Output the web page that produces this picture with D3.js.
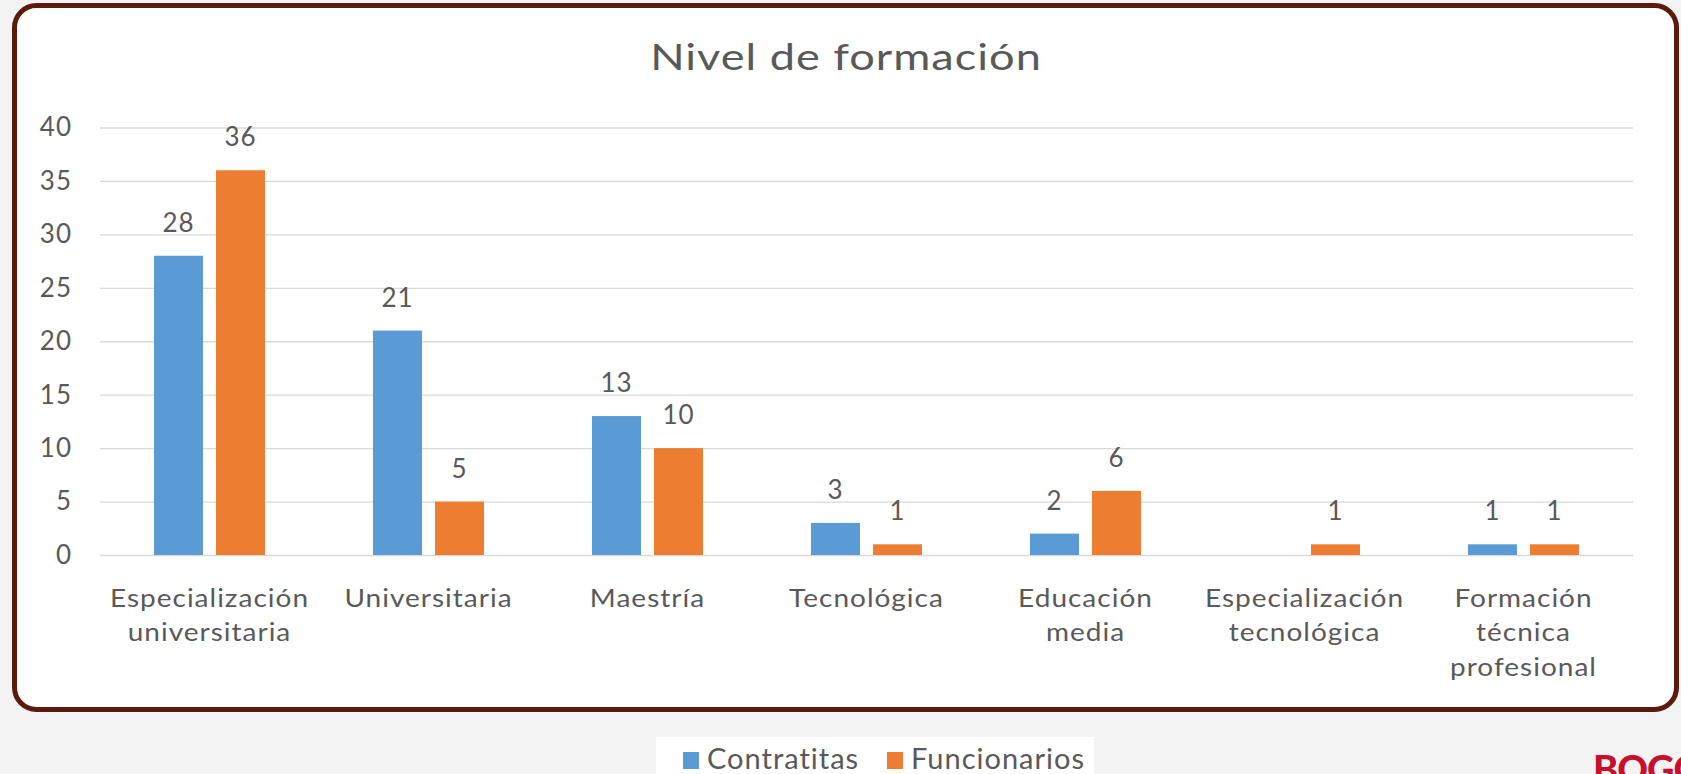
<!DOCTYPE html>
<html>
<head>
<meta charset="utf-8">
<script src="https://cdn.jsdelivr.net/npm/d3@7"></script>
<style>
    html, body { margin: 0; padding: 0; background: #f3f3f3; overflow: hidden; }
    svg { display: block; font-family: Lato, "Open Sans", sans-serif; }
</style>
</head>
<body>
<div id="chart"></div>
<script>
// chart data
const categories = ["Especialización universitaria", "Universitaria", "Maestría", "Tecnológica",
    "Educación media", "Especialización tecnológica", "Formación técnica profesional"];
const seriesNames = ["Contratitas", "Funcionarios"];
const contratitas = [28, 21, 13, 3, 2, null, 1];
const funcionarios = [36, 5, 10, 1, 6, 1, 1];
const yTicks = [0, 5, 10, 15, 20, 25, 30, 35, 40];
// label lines as they wrap in the original
const labelLines = [["Especialización", "universitaria"], ["Universitaria"], ["Maestría"], ["Tecnológica"],
    ["Educación", "media"], ["Especialización", "tecnológica"], ["Formación", "técnica", "profesional"]];

render();

function render() {
    const width = 1681, height = 774;
    const margin = { top: 127.5, bottom: 219, left: 100, right: 48 };
    const colors = ["#5B9BD5", "#ED7D31"];
    const textColor = "#595959";

    const svg = d3.select('#chart').append('svg')
        .attr('width', width)
        .attr('height', height);

    // rounded frame
    svg.append('rect')
        .attr('x', 14.5).attr('y', 5.5)
        .attr('width', 1662).attr('height', 704)
        .attr('rx', 22)
        .attr('fill', '#ffffff')
        .attr('stroke', '#5a1a0c')
        .attr('stroke-width', 5);

    // title, a bit wider like the original's stretched glyphs
    svg.append('g')
        .attr('transform', 'translate(846,70) scale(1.22,1)')
        .append('text')
        .attr('text-anchor', 'middle')
        .attr('font-size', 37)
        .attr('letter-spacing', 0.8)
        .attr('fill', textColor)
        .text('Nivel de formación');

    const x0 = d3.scaleBand()
        .domain(categories)
        .range([margin.left, width - margin.right]);

    const x1 = d3.scaleBand()
        .domain(seriesNames)
        .range([0, x0.bandwidth()])
        .paddingInner(0.21)
        .paddingOuter(0.87);

    const y = d3.scaleLinear()
        .domain([0, 40])
        .range([height - margin.bottom, margin.top]);

    // gridlines
    svg.append('g')
        .attr('transform', `translate(${margin.left},0)`)
        .call(d3.axisLeft(y).tickValues(yTicks).tickSize(-(width - margin.left - margin.right)).tickFormat(''))
        .call(g => g.select('.domain').remove())
        .selectAll('line')
        .attr('stroke', '#d9d9d9')
        .attr('stroke-width', 1.3);

    // y tick labels
    svg.append('g')
        .attr('transform', 'translate(72,0)')
        .call(d3.axisLeft(y).tickValues(yTicks).tickSize(0).tickPadding(0))
        .call(g => g.select('.domain').remove())
        .selectAll('text')
        .attr('font-family', 'Lato')
        .attr('font-size', 26)
        .attr('letter-spacing', 1)
        .attr('fill', textColor);

    const data = categories.map((c, i) => ({ cat: c, values: [contratitas[i], funcionarios[i]] }));

    const groups = svg.selectAll('.grp')
        .data(data)
        .join('g')
        .attr('class', 'grp')
        .attr('transform', d => `translate(${x0(d.cat)},0)`);

    const cells = groups.selectAll('.cell')
        .data(d => d.values.map((v, j) => ({ key: seriesNames[j], value: v, j: j })).filter(e => e.value != null))
        .join('g')
        .attr('class', 'cell');

    cells.append('rect')
        .attr('x', d => x1(d.key))
        .attr('y', d => y(d.value))
        .attr('width', x1.bandwidth())
        .attr('height', d => y(0) - y(d.value))
        .attr('fill', d => colors[d.j]);

    cells.append('text')
        .attr('x', d => x1(d.key) + x1.bandwidth() / 2)
        .attr('y', d => y(d.value) - 24)
        .attr('text-anchor', 'middle')
        .attr('font-size', 26)
        .attr('letter-spacing', 1)
        .attr('fill', textColor)
        .text(d => d.value);

    // x axis labels
    const xAxis = svg.append('g')
        .attr('transform', `translate(0,${y(0)})`)
        .call(d3.axisBottom(x0).tickSize(0).tickFormat(''));
    xAxis.select('.domain').remove();

    xAxis.selectAll('.tick').each(function (d, i) {
        const t = d3.select(this).append('text')
            .attr('transform', 'scale(1.12,1)')
            .attr('text-anchor', 'middle')
            .attr('font-family', 'Lato')
            .attr('font-size', 25)
            .attr('letter-spacing', 0.9)
            .attr('fill', textColor);
        labelLines[i].forEach((line, k) => {
            t.append('tspan')
                .attr('x', 0)
                .attr('y', 52 + k * 34.5)
                .text(line);
        });
    });

    // legend below the frame
    svg.append('rect')
        .attr('x', 656).attr('y', 737)
        .attr('width', 438).attr('height', 40)
        .attr('fill', '#ffffff');

    const legendX = [683, 887];
    const legend = svg.selectAll('.leg')
        .data(seriesNames)
        .join('g')
        .attr('class', 'leg')
        .attr('transform', (d, i) => `translate(${legendX[i]},0)`);

    legend.append('rect')
        .attr('x', 0).attr('y', 752)
        .attr('width', 16).attr('height', 17)
        .attr('fill', (d, i) => colors[i]);

    legend.append('text')
        .attr('x', 24).attr('y', 769)
        .attr('font-size', 29)
        .attr('letter-spacing', 1)
        .attr('fill', textColor)
        .text(d => d);

    // logo, clipped by the page edge
    svg.append('text')
        .attr('x', 1593).attr('y', 783)
        .attr('font-size', 38)
        .attr('font-weight', 900)
        .attr('letter-spacing', -1)
        .attr('fill', '#c8102e')
        .text('BOGOTÁ');
}
</script>
</body>
</html>
